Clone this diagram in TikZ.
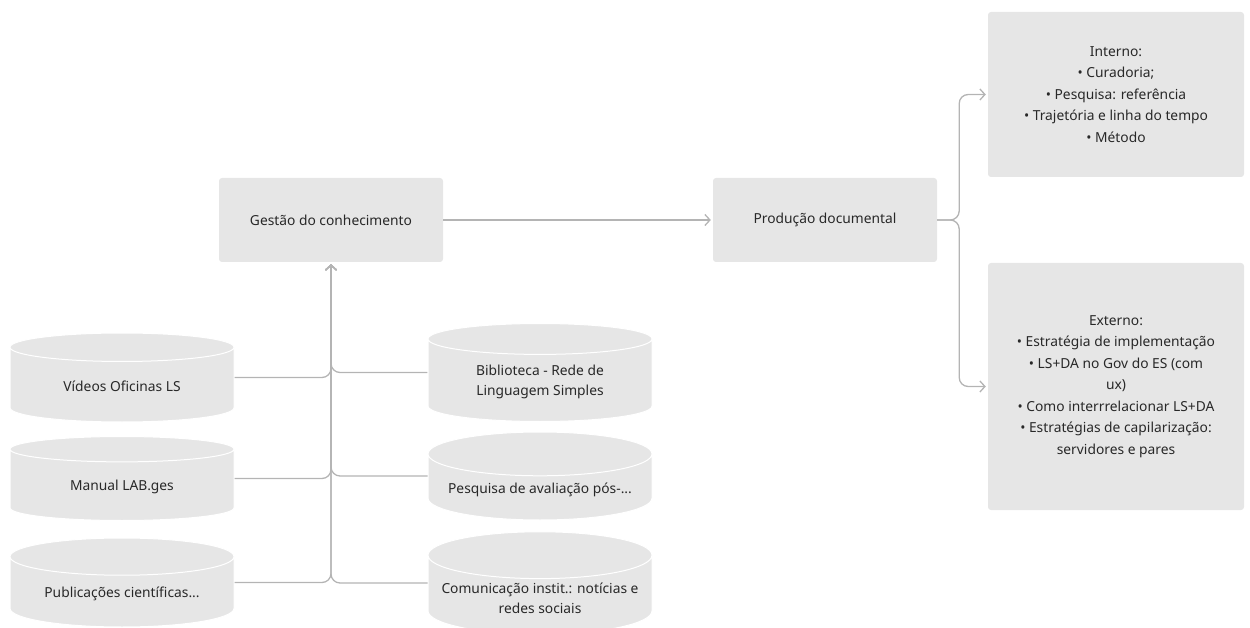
\documentclass[tikz,border=0pt]{standalone}
\usepackage{fontspec}
\setmainfont{Noto Sans}
\usetikzlibrary{arrows.meta,shapes.geometric,positioning}
\definecolor{boxgray}{RGB}{230,230,230}
\definecolor{linegray}{RGB}{180,180,180}
\definecolor{textgray}{RGB}{40,40,40}
\tikzset{
    card/.style={rectangle, rounded corners=3pt, fill=boxgray, text=textgray,
        align=center, font=\fontsize{13.8}{21.5}\selectfont},
    datastore/.style={cylinder, shape border rotate=90, aspect=0.23, draw=white,
        line width=1pt, fill=boxgray, minimum width=224pt, minimum height=89pt,
        text=textgray, align=center, font=\fontsize{13.8}{20}\selectfont,
        anchor=shape center},
    flow/.style={draw=linegray, line width=1.3pt, rounded corners=9pt,
        -{Straight Barb[length=5pt,width=11pt]}, shorten >=2pt},
}
\begin{document}
\begin{tikzpicture}[x=1pt, y=-1pt]
	\useasboundingbox (0,0) rectangle (1250,628);
	\node[card, minimum width=224pt, minimum height=84pt] (ges) at (331,220) {Gestão do conhecimento};
	\node[card, minimum width=224pt, minimum height=84pt] (prod) at (825,220) {Produção documental};
	\node[card, minimum width=256pt, minimum height=165pt] (int) at (1116,94.5)
		{Interno:\\ • Curadoria;\\ • Pesquisa: referência\\ • Trajetória e linha do tempo\\ • Método};
	\node[card, minimum width=256pt, minimum height=247pt] (ext) at (1116,386.5)
		{Externo:\\ • Estratégia de implementação\\ • LS+DA no Gov do ES (com\\ ux)\\
		 • Como interrrelacionar LS+DA\\ • Estratégias de capilarização:\\ servidores e pares};
	% sources
	\node[datastore] (vid) at (122,377.5) {Vídeos Oficinas LS};
	\node[datastore, minimum height=84pt] (man) at (122,478.5) {Manual LAB.ges};
	\node[datastore] (pub) at (122,582.5) {Publicações científicas...};
	\node[datastore, minimum height=98pt] (bib) at (540,372.5) {Biblioteca - Rede de\\ Linguagem Simples};
	\node[datastore, minimum height=88pt] (pes) at (540,476) {Pesquisa de avaliação pós-...};
	\node[datastore, minimum height=90pt] (com) at (540,583) {Comunicação instit.: notícias e\\ redes sociais};
	\foreach \src in {vid,man,pub}
		\draw[flow] (\src.shape center -| \src.east) -| (ges.south);
	\foreach \src in {bib,pes,com}
		\draw[flow] (\src.shape center -| \src.west) -| (ges.south);
	\draw[flow] (ges.east) -- (prod.west);
	\draw[flow] (prod.east) -- ++(22,0) |- (int.west);
	\draw[flow] (prod.east) -- ++(22,0) |- (ext.west);
\end{tikzpicture}
\end{document}
